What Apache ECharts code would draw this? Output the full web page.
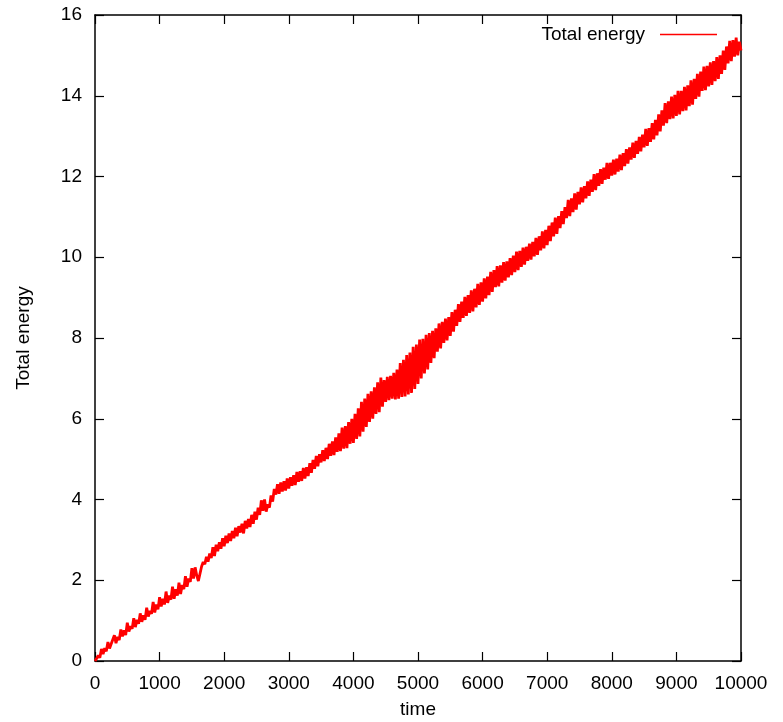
<!DOCTYPE html>
<html>
<head>
<meta charset="utf-8">
<script src="https://cdn.jsdelivr.net/npm/echarts@6/dist/echarts.min.js"></script>
<style>
  html, body { margin: 0; padding: 0; background: #ffffff; overflow: hidden; }
  #chart { width: 783px; height: 722px; }
</style>
</head>
<body>
<div id="chart"></div>
<script>
// Sampling interval of the energy record (time units)
const timeStep = 25;

// Total energy sampled every timeStep, starting at time 0 (8 samples per row)
const totalEnergy = [
  0.00, 0.06, 0.14, 0.08, 0.30, 0.17, 0.32, 0.24,
  0.47, 0.31, 0.42, 0.38, 0.64, 0.44, 0.60, 0.52,
  0.78, 0.61, 0.76, 0.64, 0.95, 0.73, 0.86, 0.80,
  1.06, 0.84, 1.02, 0.92, 1.18, 0.97, 1.13, 1.02,
  1.32, 1.10, 1.24, 1.17, 1.46, 1.20, 1.40, 1.28,
  1.58, 1.35, 1.54, 1.40, 1.72, 1.44, 1.62, 1.52,
  1.84, 1.54, 1.78, 1.62, 1.94, 1.66, 1.88, 1.78,
  2.10, 1.84, 2.04, 1.96, 2.30, 2.04, 2.32, 2.12,
  1.98, 1.95, 2.34, 2.45, 2.40, 2.58, 2.46, 2.66,
  2.55, 2.82, 2.60, 2.88, 2.72, 2.94, 2.78, 3.04,
  2.84, 3.10, 2.92, 3.16, 2.97, 3.22, 3.04, 3.30,
  3.09, 3.34, 3.18, 3.40, 3.16, 3.47, 3.28, 3.52,
  3.32, 3.62, 3.40, 3.70, 3.50, 3.80, 3.62, 3.98,
  3.72, 4.00, 3.70, 3.88, 3.80, 4.10, 3.95, 4.26,
  4.12, 4.38, 4.14, 4.42, 4.20, 4.45, 4.22, 4.52,
  4.27, 4.55, 4.34, 4.60, 4.36, 4.68, 4.44, 4.70,
  4.46, 4.78, 4.52, 4.80, 4.58, 4.90, 4.66, 4.98,
  4.76, 5.08, 4.82, 5.12, 4.92, 5.22, 4.95, 5.28,
  5.00, 5.38, 5.08, 5.44, 5.10, 5.54, 5.18, 5.64,
  5.20, 5.78, 5.26, 5.82, 5.27, 5.92, 5.38, 6.00,
  5.40, 6.12, 5.50, 6.26, 5.56, 6.42, 5.68, 6.50,
  5.80, 6.62, 5.92, 6.68, 6.00, 6.78, 6.12, 6.90,
  6.16, 7.02, 6.30, 6.96, 6.42, 7.04, 6.46, 7.06,
  6.50, 7.14, 6.48, 7.22, 6.50, 7.38, 6.54, 7.46,
  6.55, 7.58, 6.60, 7.64, 6.64, 7.78, 6.74, 7.84,
  6.86, 7.96, 7.00, 7.98, 7.12, 8.08, 7.22, 8.12,
  7.38, 8.18, 7.50, 8.24, 7.66, 8.36, 7.74, 8.40,
  7.88, 8.48, 7.94, 8.52, 8.05, 8.64, 8.16, 8.70,
  8.30, 8.84, 8.40, 8.90, 8.50, 9.02, 8.55, 9.06,
  8.62, 9.18, 8.66, 9.22, 8.76, 9.34, 8.82, 9.38,
  8.90, 9.48, 8.98, 9.52, 9.06, 9.64, 9.14, 9.68,
  9.26, 9.78, 9.28, 9.80, 9.37, 9.88, 9.42, 9.90,
  9.50, 9.98, 9.56, 10.04, 9.63, 10.14, 9.68, 10.16,
  9.76, 10.24, 9.82, 10.26, 9.91, 10.34, 9.94, 10.38,
  10.02, 10.48, 10.06, 10.52, 10.17, 10.64, 10.22, 10.68,
  10.30, 10.78, 10.40, 10.86, 10.52, 10.98, 10.58, 11.02,
  10.72, 11.14, 10.82, 11.24, 10.97, 11.42, 11.02, 11.46,
  11.12, 11.58, 11.18, 11.62, 11.31, 11.73, 11.36, 11.76,
  11.46, 11.88, 11.52, 11.92, 11.62, 12.06, 11.66, 12.08,
  11.77, 12.18, 11.82, 12.22, 11.92, 12.34, 11.94, 12.34,
  12.02, 12.42, 12.05, 12.44, 12.12, 12.54, 12.16, 12.58,
  12.26, 12.68, 12.32, 12.72, 12.42, 12.84, 12.46, 12.88,
  12.56, 12.98, 12.62, 13.04, 12.72, 13.18, 12.76, 13.20,
  12.86, 13.32, 12.92, 13.40, 13.02, 13.54, 13.12, 13.64,
  13.26, 13.82, 13.32, 13.86, 13.42, 13.98, 13.44, 14.02,
  13.50, 14.12, 13.54, 14.12, 13.62, 14.22, 13.64, 14.26,
  13.74, 14.38, 13.78, 14.42, 13.92, 14.54, 13.98, 14.60,
  14.12, 14.72, 14.14, 14.74, 14.23, 14.83, 14.27, 14.86,
  14.36, 14.96, 14.42, 15.00, 14.54, 15.12, 14.64, 15.22,
  14.80, 15.36, 14.86, 15.38, 14.97, 15.44, 15.00, 15.34,
  15.12
];

// Axis ranges and tick spacing
const xRange = [0, 10000];
const xTickStep = 1000;
const yRange = [0, 16];
const yTickStep = 2;

const seriesName = 'Total energy';
const xTitle = 'time';
const yTitle = 'Total energy';

const points = totalEnergy.map((v, i) => [i * timeStep, v]);

const font = 'Liberation Sans, Arial, Helvetica, sans-serif';
const ink = '#000000';
const plainNumber = (v) => String(v);

function frameAxis(extra) {
  return Object.assign({
    type: 'value',
    axisLine: { show: true, onZero: false, lineStyle: { color: ink, width: 1.5 } },
    axisTick: { show: true, inside: true, length: 9, lineStyle: { color: ink, width: 1.2 } },
    splitLine: { show: false },
    axisLabel: { show: false }
  }, extra);
}

const chart = echarts.init(document.getElementById('chart'), null, { renderer: 'canvas' });

chart.setOption({
  animation: false,
  backgroundColor: '#ffffff',
  textStyle: { fontFamily: font },
  grid: {
    left: 95, right: 42, top: 15, bottom: 61,
    containLabel: false,
    outerBoundsMode: 'none'
  },
  legend: {
    right: 61,
    top: 20,
    align: 'right',
    icon: 'rect',
    itemWidth: 57,
    itemHeight: 1.5,
    textStyle: { color: ink, fontSize: 19, fontFamily: font, padding: [0, 10, 0, 0] },
    data: [seriesName]
  },
  xAxis: [
    frameAxis({
      position: 'bottom',
      min: xRange[0], max: xRange[1], interval: xTickStep,
      name: xTitle,
      nameLocation: 'middle',
      nameGap: 39,
      nameTextStyle: { color: ink, fontSize: 19, fontFamily: font },
      axisLabel: { show: true, color: ink, fontSize: 19, fontFamily: font, margin: 13, formatter: plainNumber }
    }),
    frameAxis({
      position: 'top',
      min: xRange[0], max: xRange[1], interval: xTickStep
    })
  ],
  yAxis: [
    frameAxis({
      position: 'left',
      min: yRange[0], max: yRange[1], interval: yTickStep,
      name: yTitle,
      nameLocation: 'middle',
      nameGap: 62,
      nameRotate: 90,
      nameTextStyle: { color: ink, fontSize: 19, fontFamily: font },
      axisLabel: { show: true, color: ink, fontSize: 19, fontFamily: font, margin: 13, formatter: plainNumber }
    }),
    frameAxis({
      position: 'right',
      min: yRange[0], max: yRange[1], interval: yTickStep
    })
  ],
  series: [{
    name: seriesName,
    type: 'line',
    xAxisIndex: 0,
    yAxisIndex: 0,
    data: points,
    showSymbol: false,
    symbol: 'none',
    sampling: null,
    color: '#ff0000',
    lineStyle: { color: '#ff0000', width: 2.8, join: 'bevel' },
    z: 1
  }]
});
</script>
</body>
</html>
